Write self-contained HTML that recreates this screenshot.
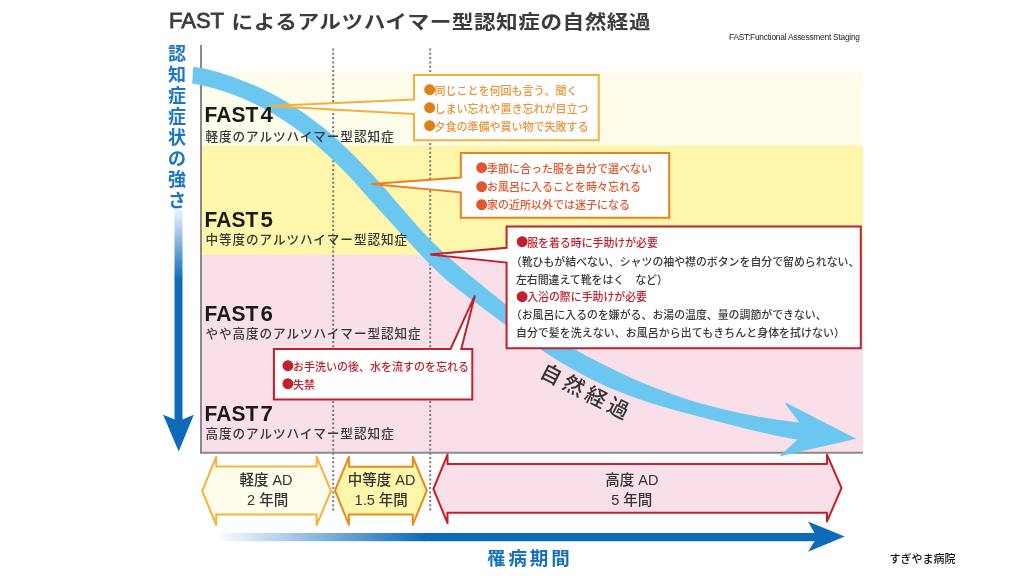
<!DOCTYPE html>
<html><head><meta charset="utf-8">
<style>
html,body{margin:0;padding:0;background:#fff;}
body{width:1024px;height:576px;overflow:hidden;position:relative;}
svg{position:absolute;left:0;top:0;}
text{font-family:'Liberation Sans','Noto Sans CJK JP',sans-serif;}
</style></head><body>
<svg width="1024" height="576" viewBox="0 0 1024 576">
<defs>
<linearGradient id="gv" x1="0" y1="0" x2="0" y2="1">
<stop offset="0" stop-color="#0d6bb9" stop-opacity="0.05"/>
<stop offset="1" stop-color="#0d6bb9" stop-opacity="1"/>
</linearGradient>
<linearGradient id="gh" x1="0" y1="0" x2="1" y2="0">
<stop offset="0" stop-color="#0d6bb9" stop-opacity="0"/>
<stop offset="1" stop-color="#0d6bb9" stop-opacity="1"/>
</linearGradient>
</defs>
<!-- bands -->
<rect x="201" y="72" width="662" height="73.5" fill="#fefcea"/>
<rect x="201" y="145.5" width="662" height="109.5" fill="#fef6ab"/>
<rect x="201" y="255" width="662" height="198" fill="#f8dfea"/>
<!-- axes -->
<line x1="201" y1="45" x2="201" y2="453.5" stroke="#8a8a8a" stroke-width="2"/>
<line x1="200" y1="452.7" x2="863" y2="452.7" stroke="#8a8a8a" stroke-width="2"/>
<line x1="333.2" y1="48.5" x2="333.2" y2="511" stroke="#7a7a7a" stroke-width="2" stroke-dasharray="2 2.3"/>
<line x1="430.2" y1="48.5" x2="430.2" y2="511" stroke="#7a7a7a" stroke-width="2" stroke-dasharray="2 2.3"/>
<!-- title -->
<text x="168.9" y="28.2" font-size="22.9" fill="#3c3c3c" font-family="'Liberation Sans',sans-serif" stroke="#3c3c3c" stroke-width="0.8" textLength="55.2" lengthAdjust="spacingAndGlyphs">FAST</text>
<text transform="translate(0,28.5) scale(1,0.875)" x="231.6" y="0" font-size="21.6" fill="#3c3c3c" font-weight="700" textLength="419" lengthAdjust="spacing">によるアルツハイマー型認知症の自然経過</text>
<text x="729" y="40.4" font-size="8.4" fill="#222" textLength="131" lengthAdjust="spacing" font-family="'Liberation Sans',sans-serif">FAST:Functional Assessment Staging</text>
<!-- left vertical label -->
<g font-size="18" fill="#1c76c6" font-weight="700">
<text x="168" y="60.3">認</text><text x="168" y="81.3">知</text><text x="168" y="102.3">症</text><text x="168" y="123.3">症</text>
<text x="168" y="144.3">状</text><text x="168" y="165.3">の</text><text x="168" y="186.3">強</text><text x="168" y="207.3">さ</text>
</g>
<rect x="174.5" y="208" width="8" height="72" fill="url(#gv)"/>
<rect x="174.5" y="279.5" width="8" height="142" fill="#0d6bb9"/>
<path d="M163.1,414.7 L178.6,421 L193.8,414.7 L178.7,451.6 Z" fill="#0d6bb9"/>
<!-- curve -->
<path d="M193.8,67.5 L201.5,68.7 L209.2,70.4 L216.8,72.4 L224.5,74.8 L232.2,77.4 L239.9,80.2 L247.6,83.2 L255.2,86.4 L262.9,89.9 L270.6,93.7 L278.3,97.8 L286.0,102.2 L293.7,107.0 L301.3,112.0 L309.0,117.4 L316.7,123.2 L324.4,129.3 L332.1,135.9 L339.7,142.7 L347.4,149.9 L355.1,157.5 L362.8,165.3 L370.5,173.4 L378.1,181.9 L385.8,190.5 L393.5,199.4 L401.2,208.3 L408.9,217.1 L416.5,225.8 L424.2,234.2 L431.9,242.2 L439.6,249.8 L447.3,256.9 L455.0,263.6 L462.6,270.1 L470.3,276.5 L478.0,282.8 L485.7,289.1 L493.4,295.3 L501.0,301.4 L508.7,307.3 L516.4,313.0 L524.1,318.4 L531.8,323.7 L539.4,328.8 L547.1,333.7 L554.8,338.4 L562.5,343.0 L570.2,347.5 L577.9,351.8 L585.5,356.0 L593.2,360.1 L600.9,364.1 L608.6,367.9 L616.3,371.6 L623.9,375.2 L631.6,378.7 L639.3,382.0 L647.0,385.3 L654.7,388.3 L662.3,391.3 L670.0,394.1 L677.7,396.8 L685.4,399.3 L693.1,401.7 L700.7,404.0 L708.4,406.1 L716.1,408.1 L723.8,410.0 L731.5,411.8 L739.2,413.5 L746.8,415.1 L754.5,416.5 L762.2,417.9 L769.9,419.1 L777.6,420.3 L785.2,421.3 L792.9,422.3 L800.6,423.2 L785.8,403.4 L854.4,438.6 L781.1,455.3 L798.8,439.2 L791.1,437.9 L783.5,436.4 L775.8,434.9 L768.1,433.2 L760.4,431.4 L752.8,429.6 L745.1,427.8 L737.4,425.8 L729.8,423.9 L722.1,421.9 L714.4,420.0 L706.7,418.0 L699.1,416.0 L691.4,414.0 L683.7,412.0 L676.1,409.9 L668.4,407.7 L660.7,405.5 L653.1,403.1 L645.4,400.6 L637.7,398.0 L630.0,395.2 L622.4,392.3 L614.7,389.2 L607.0,385.9 L599.4,382.4 L591.7,378.7 L584.0,374.7 L576.3,370.6 L568.7,366.2 L561.0,361.7 L553.3,357.0 L545.7,352.1 L538.0,347.0 L530.3,341.9 L522.6,336.5 L515.0,331.1 L507.3,325.5 L499.6,319.8 L492.0,314.1 L484.3,308.3 L476.6,302.6 L469.0,296.9 L461.3,291.1 L453.6,285.0 L445.9,278.5 L438.3,271.5 L430.6,264.1 L422.9,256.2 L415.3,248.1 L407.6,239.8 L399.9,231.5 L392.2,223.2 L384.6,214.9 L376.9,206.4 L369.2,197.8 L361.6,189.1 L353.9,180.6 L346.2,172.4 L338.5,164.6 L330.9,157.2 L323.2,150.2 L315.5,143.5 L307.9,137.2 L300.2,131.3 L292.5,125.7 L284.9,120.5 L277.2,115.6 L269.5,111.0 L261.8,106.8 L254.2,102.9 L246.5,99.4 L238.8,96.1 L231.2,93.2 L223.5,90.6 L215.8,88.2 L208.1,86.2 L200.5,84.5 L192.8,83.0 Z" fill="#6cc7f0" stroke="#6cc7f0" stroke-width="1.2" stroke-linejoin="miter"/>
<!-- FAST labels -->
<g font-family="'Liberation Sans',sans-serif" font-weight="bold" font-size="22.3" fill="#1a1a1a">
<text x="204.6" y="122.2" textLength="53.6" lengthAdjust="spacingAndGlyphs">FAST</text><text x="260.6" y="122.2">4</text>
<text x="204.6" y="227.1" textLength="53.6" lengthAdjust="spacingAndGlyphs">FAST</text><text x="260.6" y="227.1">5</text>
<text x="204.6" y="321.3" textLength="53.6" lengthAdjust="spacingAndGlyphs">FAST</text><text x="260.6" y="321.3">6</text>
<text x="204.6" y="420.9" textLength="53.6" lengthAdjust="spacingAndGlyphs">FAST</text><text x="260.6" y="420.9">7</text>
</g>
<g font-size="12.6" fill="#383838" font-weight="500" letter-spacing="0.93">
<text x="205.5" y="140.6">軽度のアルツハイマー型認知症</text>
<text x="205.5" y="244.3">中等度のアルツハイマー型認知症</text>
<text x="205.5" y="338.3">やや高度のアルツハイマー型認知症</text>
<text x="205.5" y="438.4">高度のアルツハイマー型認知症</text>
</g>
<!-- callout 1 -->
<path d="M414,99.5 L414,74.9 L598.7,74.9 L598.7,140.2 L414,140.2 L414,114 L269.1,105.9 Z" fill="#fff" stroke="#f4b13a" stroke-width="2" stroke-linejoin="miter"/>
<g font-size="11" fill="#ec9238" font-weight="500">
<text x="422.05" y="96.83" font-size="25.3" fill="#e07f12">●</text><text x="434.40" y="94.7">同じことを何回も言う、聞く</text>
<text x="422.05" y="114.83" font-size="25.3" fill="#e07f12">●</text><text x="434.40" y="112.6">しまい忘れや置き忘れが目立つ</text>
<text x="422.05" y="132.73" font-size="25.3" fill="#e07f12">●</text><text x="434.40" y="130.5">夕食の準備や買い物で失敗する</text>
</g>
<!-- callout 2 -->
<path d="M460.8,177.6 L460.8,153 L669.2,153 L669.2,217.7 L460.8,217.7 L460.8,192.3 L371.4,183.9 Z" fill="#fff" stroke="#e8821f" stroke-width="2"/>
<g font-size="11" fill="#e4552b" font-weight="500">
<text x="474.10" y="175.23" font-size="25.3">●</text><text x="487.00" y="172.6">季節に合った服を自分で選べない</text>
<text x="474.10" y="193.63" font-size="25.3">●</text><text x="487.00" y="190.8">お風呂に入ることを時々忘れる</text>
<text x="474.10" y="211.63" font-size="25.3">●</text><text x="487.00" y="209.0">家の近所以外では迷子になる</text>
</g>
<!-- callout 3 -->
<path d="M506.6,247.8 L506.6,226.6 L860.8,226.6 L860.8,348.3 L506.6,348.3 L506.6,262.6 L430.2,254.6 Z" fill="#fff" stroke="#c1202d" stroke-width="2"/>
<g font-size="10.9" fill="#383838" font-weight="500">
<text x="514.60" y="249.03" font-size="25.3" fill="#c1202d">●</text><text x="527.20" y="246.5" fill="#c1202d">服を着る時に手助けが必要</text>
<text x="510.8" y="265.9">（靴ひもが結べない、シャツの袖や襟のボタンを自分で留められない、</text>
<text x="515.9" y="283.5">左右間違えて靴をはく　など）</text>
<text x="514.60" y="303.63" font-size="25.3" fill="#c1202d">●</text><text x="527.20" y="301.3" fill="#c1202d">入浴の際に手助けが必要</text>
<text x="510.8" y="319">（お風呂に入るのを嫌がる、お湯の温度、量の調節ができない、</text>
<text x="515.9" y="336.8" letter-spacing="0.1">自分で髪を洗えない、お風呂から出てもきちんと身体を拭けない）</text>
</g>
<!-- callout 4 -->
<path d="M450.6,349 L273.9,349 L273.9,399.6 L472.3,399.6 L472.3,349 L461.25,349 L474.9,295.4 Z" fill="#fff" stroke="#c1202d" stroke-width="2"/>
<g font-size="11" fill="#c1202d" font-weight="500">
<text x="280.30" y="372.93" font-size="25.3">●</text><text x="292.90" y="370.9">お手洗いの後、水を流すのを忘れる</text>
<text x="280.30" y="391.23" font-size="25.3">●</text><text x="292.90" y="389.1">失禁</text>
</g>
<!-- 自然経過 -->
<text transform="translate(538.6,376.2) rotate(27)" font-size="21" fill="#333" font-weight="500" letter-spacing="4">自然経過</text>
<!-- bottom double arrows -->
<path d="M202.2,491 L216.2,456.6 L216.2,466.4 L316.6,466.4 L316.6,456.6 L331,491 L316.6,525 L316.6,514.4 L216.2,514.4 L216.2,525 Z" fill="#fefcea" stroke="#f5b23d" stroke-width="2" stroke-linejoin="round"/>
<path d="M335,490.5 L348.9,456.8 L348.9,466.7 L412.8,466.7 L412.8,456.8 L426.8,490.5 L412.8,524.7 L412.8,514.6 L348.9,514.6 L348.9,524.7 Z" fill="#fef6ab" stroke="#e98a1c" stroke-width="2" stroke-linejoin="round"/>
<path d="M433.4,489 L447.5,454.6 L447.5,464 L827,464 L827,454.6 L841.5,488 L827,521.5 L827,512.7 L447.5,512.7 L447.5,523 Z" fill="#f8dfea" stroke="#c3202c" stroke-width="2" stroke-linejoin="round"/>
<g font-size="14.5" fill="#333" text-anchor="middle" font-weight="500">
<text x="266" y="485">軽度 AD</text>
<text x="267.6" y="504.5">2 年間</text>
<text x="381.6" y="485">中等度 AD</text>
<text x="381.2" y="504.5">1.5 年間</text>
<text x="631.9" y="485">高度 AD</text>
<text x="631.7" y="504.5">5 年間</text>
</g>
<!-- bottom arrow -->
<rect x="215" y="533" width="210" height="8.2" fill="url(#gh)"/>
<rect x="424" y="533" width="392" height="8.2" fill="#0d6bb9"/>
<path d="M808,521.6 L814.5,533 L814.5,541.2 L808,551.7 L844.7,536.6 Z" fill="#0d6bb9"/>
<text x="487" y="565" font-size="18.5" fill="#1670c0" font-weight="700" letter-spacing="2.9">罹病期間</text>
<text x="889.5" y="562.9" font-size="11" fill="#111" font-weight="500">すぎやま病院</text>
</svg>
</body></html>
